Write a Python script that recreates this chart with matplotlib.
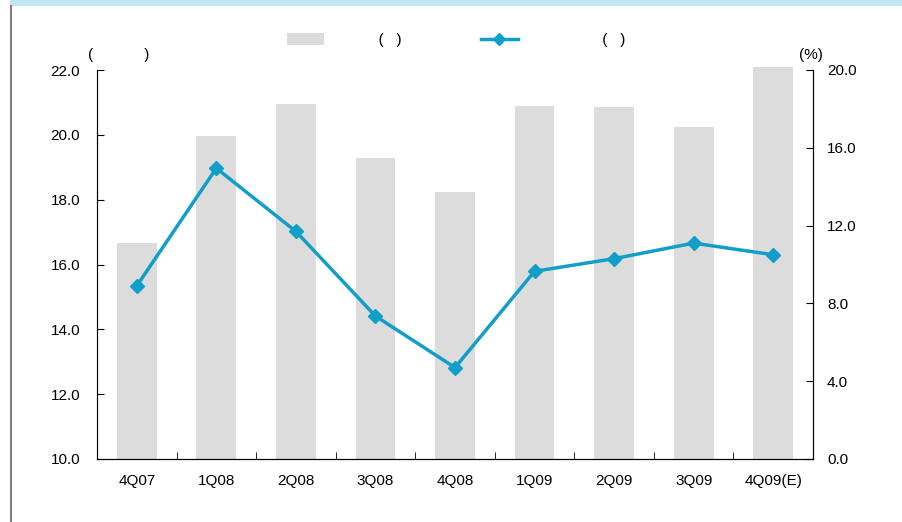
import matplotlib
matplotlib.use("Agg")
import matplotlib.pyplot as plt
from matplotlib.lines import Line2D
from matplotlib.patches import Patch, Rectangle
import numpy as np

plt.rcParams["font.family"] = ["Liberation Sans", "DejaVu Sans"]
plt.rcParams["font.size"] = 11

quarters = ["4Q07", "1Q08", "2Q08", "3Q08", "4Q08", "1Q09", "2Q09", "3Q09", "4Q09(E)"]
bar_values = [16.65, 19.95, 20.95, 19.3, 18.25, 20.9, 20.85, 20.25, 22.1]
line_values = [8.9, 14.95, 11.7, 7.35, 4.7, 9.65, 10.3, 11.1, 10.5]

BAR_COLOR = "#dcdcdc"
LINE_COLOR = "#119ec8"
BASE = 10

fig = plt.figure(figsize=(9.03, 5.22), dpi=100)
W, H = 903, 522

# decorative frame: light blue band on top, grey rule on the left
fig.patches.append(Rectangle((10 / W, 1 - 6 / H), 1, 6 / H, transform=fig.transFigure,
                             facecolor="#c0e6ef", edgecolor="none"))
fig.lines.append(Line2D([11.5 / W, 11.5 / W], [0, 1 - 6 / H], transform=fig.transFigure,
                        color="#7f7f7f", lw=1.5))

ax = fig.add_axes([97 / W, 1 - 459 / H, (813 - 97) / W, (459 - 70) / H])
x = np.arange(len(quarters))
# bars start at the axis floor so the tallest one may poke above the top
ax.bar(x, np.array(bar_values) - BASE, bottom=BASE, width=0.5, color=BAR_COLOR,
       clip_on=False, zorder=1)
ax.set_xlim(-0.5, len(quarters) - 0.5)
ax.set_ylim(BASE, 22)
ax.set_yticks(np.arange(10, 22.1, 2))
ax.set_yticklabels([f"{v:.1f}" for v in np.arange(10, 22.1, 2)])
ax.set_xticks(x)
ax.set_xticklabels(quarters)
ax.set_xticks(np.arange(0.5, len(quarters) - 0.5), minor=True)
ax.tick_params(axis="x", which="major", length=0, pad=11)
ax.tick_params(axis="x", which="minor", direction="in", length=5)
ax.tick_params(axis="y", direction="in", length=5, pad=12)
ax.spines["top"].set_visible(False)
ax.spines["right"].set_color("black")
ax.spines["left"].set_color("#555555")
ax.spines["bottom"].set_color("black")
ax.text(-0.013, 1.02, "(            )", transform=ax.transAxes, ha="left", va="bottom")

ax2 = ax.twinx()
ax2.plot(x, line_values, color=LINE_COLOR, lw=2.5, marker="D", markersize=7.5, zorder=3)
ax2.set_ylim(0, 20)
ax2.set_yticks(np.arange(0, 20.1, 4))
ax2.set_yticklabels([f"{v:.1f}" for v in np.arange(0, 20.1, 4)])
ax2.tick_params(axis="y", direction="in", length=5, pad=10)
ax2.spines["top"].set_visible(False)
ax2.text(0.98, 1.02, "(%)", transform=ax2.transAxes, ha="left", va="bottom")

handles = [Patch(facecolor=BAR_COLOR, edgecolor="none"),
           Line2D([0], [0], color=LINE_COLOR, lw=2.5, marker="D", markersize=6)]
fig.legend(handles, ["          (   )", "                 (   )"], loc="center",
           bbox_to_anchor=(456 / W, 1 - 40 / H), ncol=2, frameon=False,
           handlelength=2.4, handleheight=0.8, columnspacing=5.2)

fig.savefig("out.png", dpi=100)
